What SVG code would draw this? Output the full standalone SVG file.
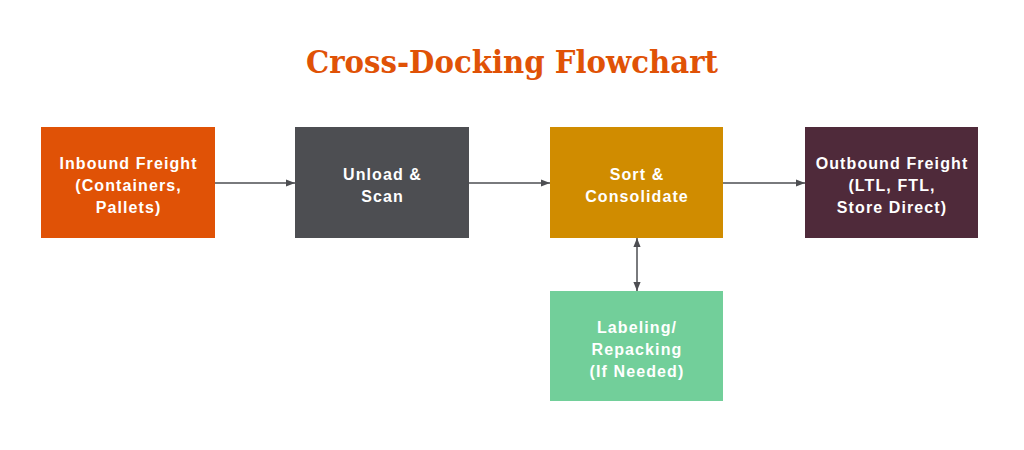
<svg xmlns="http://www.w3.org/2000/svg" width="1024" height="450" viewBox="0 0 1024 450">
<style>
.lbl{font-family:"Liberation Sans",Arial,sans-serif;font-weight:bold;font-size:16px;letter-spacing:1.1px;fill:#fff;text-anchor:middle}
.title{font-family:"DejaVu Serif","Liberation Serif",serif;font-weight:bold;font-size:31px;fill:#E05206;text-anchor:middle}
.conn{stroke:#4D4E52;stroke-width:1.5;fill:none}
</style>
<defs>
<marker id="ah" viewBox="0 0 10 10" refX="10" refY="5" markerWidth="6" markerHeight="6" orient="auto-start-reverse">
<path d="M0,1 L10,5 L0,9 z" fill="#4D4E52"/>
</marker>
</defs>
<rect width="1024" height="450" fill="#fff"/>
<text class="title" x="512" y="73" textLength="412" lengthAdjust="spacingAndGlyphs">Cross-Docking Flowchart</text>
<g id="connectors">
<line class="conn" x1="215" y1="183" x2="295" y2="183" marker-end="url(#ah)"/>
<line class="conn" x1="469" y1="183" x2="550" y2="183" marker-end="url(#ah)"/>
<line class="conn" x1="723" y1="183" x2="805" y2="183" marker-end="url(#ah)"/>
<line class="conn" x1="637" y1="238" x2="637" y2="291" marker-start="url(#ah)" marker-end="url(#ah)"/>
</g>
<g id="inbound">
<rect x="41" y="127" width="174" height="111" fill="#E05206"/>
<text class="lbl" x="128.5" y="169">Inbound Freight</text>
<text class="lbl" x="128.5" y="191">(Containers,</text>
<text class="lbl" x="128.5" y="213">Pallets)</text>
</g>
<g id="unload">
<rect x="295" y="127" width="174" height="111" fill="#4D4E52"/>
<text class="lbl" x="382.5" y="180">Unload &amp;</text>
<text class="lbl" x="382.5" y="202">Scan</text>
</g>
<g id="sort">
<rect x="550" y="127" width="173" height="111" fill="#D08C00"/>
<text class="lbl" x="637" y="180">Sort &amp;</text>
<text class="lbl" x="637" y="202">Consolidate</text>
</g>
<g id="outbound">
<rect x="805" y="127" width="173" height="111" fill="#4F2A3A"/>
<text class="lbl" x="892" y="169">Outbound Freight</text>
<text class="lbl" x="892" y="191">(LTL, FTL,</text>
<text class="lbl" x="892" y="213">Store Direct)</text>
</g>
<g id="labeling">
<rect x="550" y="291" width="173" height="110" fill="#72CF9A"/>
<text class="lbl" x="637" y="333">Labeling/</text>
<text class="lbl" x="637" y="355">Repacking</text>
<text class="lbl" x="637" y="377">(If Needed)</text>
</g>
</svg>
